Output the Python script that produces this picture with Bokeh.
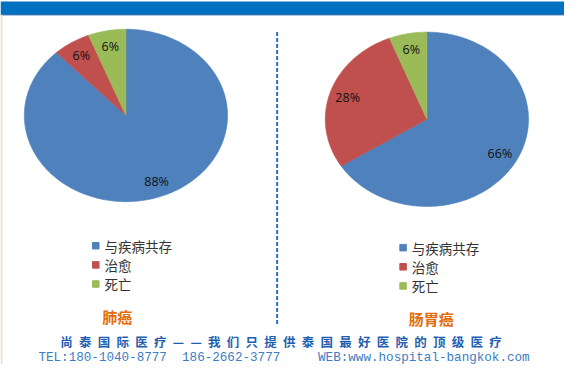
import numpy as np
from bokeh.plotting import figure
from bokeh.models import Range1d, ColumnDataSource
from bokeh.core.properties import value
from bokeh.embed import file_html
from bokeh.resources import INLINE

# ---- data ----
categories = ["与疾病共存", "治愈", "死亡"]
lung_pct = [88, 6, 6]
gi_pct = [66, 28, 6]
titles = ["肺癌", "肠胃癌"]
slogan = "尚泰国际医疗——我们只提供泰国最好医院的顶级医疗"
contact = "TEL:180-1040-8777  186-2662-3777     WEB:www.hospital-bangkok.com"

colors = ["#4F81BD", "#C0504D", "#9BBB59"]

H = 380


def Y(y):
    return H - y


p = figure(width=564, height=364, x_range=Range1d(0, 580), y_range=Range1d(0, 380),
           output_backend="svg", toolbar_location=None, min_border=0)
p.axis.visible = False
p.grid.visible = False
p.outline_line_color = None
p.background_fill_color = "white"
p.border_fill_color = "white"

# top bar and left edge strip
p.quad(left=[0], right=[580], top=[Y(1)], bottom=[Y(15)], fill_color="#0070C0", line_color=None)
p.line([0, 580], [Y(15), Y(15)], line_color="#1F5E9E", line_width=1)
p.quad(left=[0], right=[2], top=[Y(15)], bottom=[Y(380)], fill_color="#EDE3CC", line_color=None)

# divider
p.line([284.5, 284.5], [Y(33), Y(338)], line_dash="4 2", line_width=2, line_color="#2F6EBF")


def pie(vals, cx, cy, rx, ry, leg_x, leg_y, title, title_x, title_y):
    total = float(sum(vals))
    start = np.pi / 2
    xs, ys, lx, ly, labs = [], [], [], [], []
    for v in vals:
        end = start - 2 * np.pi * v / total
        n = max(int(abs(end - start) * 60), 3)
        t = np.linspace(start, end, n)
        xs.append(list(np.concatenate([[cx], cx + rx * np.cos(t)])))
        ys.append(list(np.concatenate([[Y(cy)], Y(cy) + ry * np.sin(t)])))
        mid = (start + end) / 2
        lx.append(cx + 0.82 * rx * np.cos(mid))
        ly.append(Y(cy) + 0.82 * ry * np.sin(mid))
        labs.append(f"{v}%")
        start = end
    src = ColumnDataSource(dict(xs=xs, ys=ys, c=colors))
    p.patches("xs", "ys", source=src, fill_color="c", line_color="c", line_width=0.6)
    p.text(lx, ly, text=labs, text_align="center", text_baseline="middle",
           text_font=value("Open Sans"), text_font_size="12.5px", text_color="#111111")
    # legend
    lys = [Y(leg_y + 20 * i) for i in range(len(categories))]
    p.scatter([leg_x] * len(categories), lys, marker="square", size=6.5,
              fill_color=colors, line_color=colors)
    p.text([leg_x + 9] * len(categories), lys, text=categories, text_align="left",
           text_baseline="middle", text_font=value("Noto Sans CJK SC"),
           text_font_size="13.5px", text_color="#333333")
    p.text([title_x], [Y(title_y)], text=[title], text_align="center", text_baseline="middle",
           text_font=value("Noto Sans CJK SC"), text_font_style="bold",
           text_font_size="15px", text_color="#E46C0A")


pie(lung_pct, 129, 120, 104.5, 90, 98, 256, titles[0], 120, 330)
pie(gi_pct, 438.5, 124, 104.5, 91, 414, 258, titles[1], 443, 332)

# footer
p.text([288.5], [Y(356)], text=["\u2002".join(slogan)], text_align="center", text_baseline="middle",
       text_font=value("Noto Sans CJK SC"), text_font_style="bold",
       text_font_size="12.5px", text_color="#1F5FAF")
p.text([39], [Y(373)], text=[contact.replace(" ", "\u00a0")], text_align="left",
       text_baseline="middle", text_font=value("Liberation Mono"),
       text_font_size="12.6px", text_color="#3C7DC4")

open("out.html", "w").write(file_html(p, INLINE))
